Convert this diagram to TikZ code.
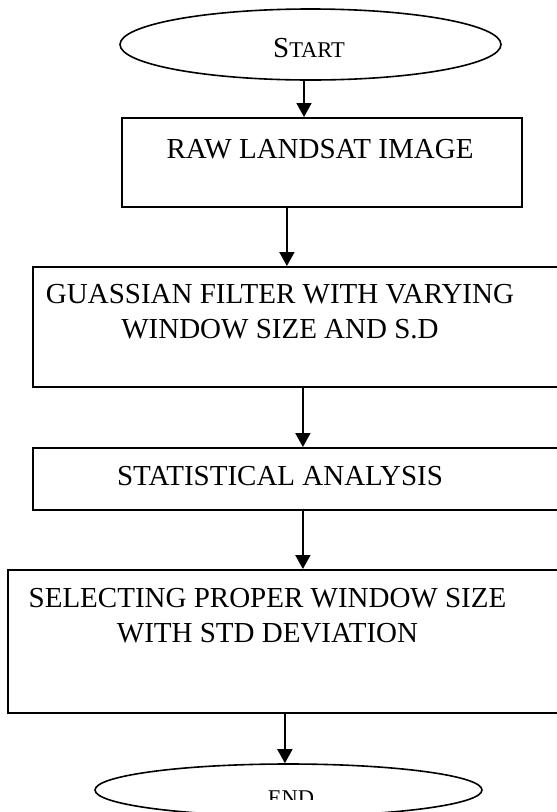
\documentclass[tikz,border=0pt]{standalone}
\usepackage{fontspec}
\setmainfont{Liberation Serif}
\usetikzlibrary{shapes.geometric,arrows.meta,calc}

\tikzset{
  oval/.style={draw, ellipse, line width=1.6pt, inner sep=0pt},
  procbox/.style={draw, rectangle, line width=1.8pt, inner sep=0pt, anchor=north west},
  label/.style={font=\fontsize{29}{35}\selectfont, inner sep=0pt, align=center, anchor=base},
  arr/.style={line width=1.8pt, -{Triangle[length=14pt,width=15pt]}}
}

\begin{document}
\begin{tikzpicture}[x=1pt,y=-1pt]
  \useasboundingbox (0,0) rectangle (557,812);

  % terminals
  \node[oval, minimum width=381pt, minimum height=71pt] (start) at (310.5,44.5) {};
  \node[inner sep=0pt, anchor=base] (starttxt) at (309,57)
    {\fontsize{29}{35}\selectfont S\fontsize{22.5}{27}\selectfont TART};

  \node[oval, minimum width=387pt, minimum height=52pt] (end) at (288.5,790) {};
  \begin{scope}
    \clip (0,760) rectangle (557,799);
    \node[inner sep=0pt, anchor=base] (endtxt) at (291,805)
      {\fontsize{22.5}{27}\selectfont END};
  \end{scope}

  % process boxes (right edges run past the page)
  \node[procbox, minimum width=400pt, minimum height=89pt] (raw) at (121,117) {};
  \node[label] (rawtxt) at (320,158) {RAW LANDSAT IMAGE};

  \node[procbox, minimum width=540pt, minimum height=120pt] (gauss) at (32,266) {};
  \node[label] (gausstxt) at (280,338) {GUASSIAN FILTER WITH VARYING\\WINDOW SIZE AND S.D};

  \node[procbox, minimum width=540pt, minimum height=62pt] (stat) at (32,447) {};
  \node[label] (stattxt) at (280,485) {STATISTICAL ANALYSIS};

  \node[procbox, minimum width=560pt, minimum height=143pt] (select) at (7,569) {};
  \node[label] (selecttxt) at (267.5,642) {SELECTING PROPER WINDOW SIZE\\WITH STD DEVIATION};

  % connectors
  \draw[arr] ([xshift=-6.5pt]start.south) -- ([xshift=-6.5pt]start.south |- raw.north);
  \draw[arr] ([xshift=-35pt]raw.south) -- ([xshift=-35pt]raw.south |- gauss.north);
  \draw[arr] (gauss.south) -- (gauss.south |- stat.north);
  \draw[arr] (stat.south) -- (stat.south |- select.north);
  \draw[arr] ([xshift=-3pt]select.south) -- ([xshift=-3pt]select.south |- end.north);
\end{tikzpicture}
\end{document}
